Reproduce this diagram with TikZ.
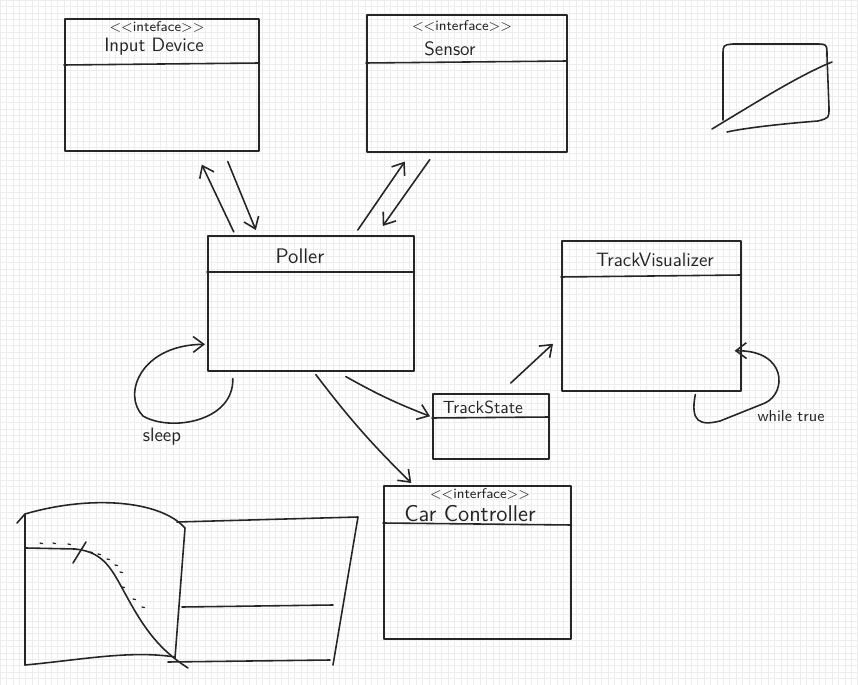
\documentclass[tikz,border=0pt]{standalone}
\usepackage{fontspec}
\usetikzlibrary{arrows.meta,calc}
% one drawing unit = one pixel of the sheet
\newlength\pxu \setlength\pxu{0.02cm}
\tikzset{
  pen/.style={line width=0.9pt, draw=black!85, line cap=round, line join=round},
  umlbox/.style={pen, rectangle, inner sep=0pt, anchor=north west},
  title/.style={font=\sffamily\fontsize{#1}{#1}\selectfont, inner sep=0pt, text=black!85},
  title/.default=11,
  stereo/.style={font=\sffamily\fontsize{8}{8}\selectfont, inner sep=0pt, text=black!85},
  flow/.style={pen, -{Straight Barb[length=6pt,width=9pt]}},
  sketch/.style={pen},
}
\begin{document}
\begin{tikzpicture}[x=0.02cm, y=-0.02cm]
  % sheet of squared paper
  \useasboundingbox (0,0) rectangle (858,685);
  \fill[white] (0,0) rectangle (858,685);
  \draw[black!7, line width=0.25pt, step=6.4\pxu] (0,0) grid (858,685);

  % ---------- class boxes ----------
  \node[umlbox, minimum width=194\pxu, minimum height=132\pxu] (in) at (64,18) {};
  \draw[pen] ($(in.north west)+(0,47)$) -- ($(in.north east)+(0,45)$);
  \node[stereo] (in-st) at (157,27) {<\kern0pt<inteface>\kern0pt>};
  \node[title] (in-t) at (154,47) {Input Device};

  \node[umlbox, minimum width=200\pxu, minimum height=137\pxu] (se) at (366,14) {};
  \draw[pen] ($(se.north west)+(0,49)$) -- ($(se.north east)+(0,47)$);
  \node[stereo] (se-st) at (462,26) {<\kern0pt<interface>\kern0pt>};
  \node[title] (se-t) at (450,49) {Sensor};

  \node[umlbox, minimum width=206\pxu, minimum height=135\pxu] (poller) at (207,235) {};
  \draw[pen] ($(poller.north west)+(0,37)$) -- ($(poller.north east)+(0,37)$);
  \node[title=12] (poller-t) at (300,256) {Poller};

  \node[umlbox, minimum width=179\pxu, minimum height=150\pxu] (tv) at (561,240) {};
  \draw[pen] ($(tv.north west)+(0,37)$) -- ($(tv.north east)+(0,35)$);
  \node[title] (tv-t) at (655,260) {TrackVisualizer};

  \node[umlbox, minimum width=116\pxu, minimum height=65\pxu] (ts) at (432,393) {};
  \draw[pen] ($(ts.north west)+(0,25)$) -- ($(ts.north east)+(0,24)$);
  \node[title=10] (ts-t) at (483,407) {TrackState};

  \node[umlbox, minimum width=187\pxu, minimum height=153\pxu] (cc) at (383,485) {};
  \draw[pen] ($(cc.north west)+(0,38)$) -- ($(cc.north east)+(0,40)$);
  \node[stereo] (cc-st) at (480,494) {<\kern0pt<interface>\kern0pt>};
  \node[title=13] (cc-t) at (470,514) {Car Controller};

  % ---------- messages ----------
  \draw[flow] ($(in.south)+(66,10)$) -- ($(poller.north)+(-55,-5)$);
  \draw[flow] ($(poller.north)+(-77,-3)$) -- ($(in.south)+(40,13)$);
  \draw[flow] ($(poller.north)+(47,-5)$) -- ($(se.south)+(-62,9)$);
  \draw[flow] ($(se.south)+(-37,7)$) -- ($(poller.north)+(72,-9)$);
  \draw[flow] ($(poller.south)+(35,5)$) to[bend right=4] ($(ts.west)+(-2,-10)$);
  \draw[flow] ($(poller.south)+(5,3)$) to[bend right=4] ($(cc.north)+(-66,-2)$);
  \draw[flow] ($(ts.north)+(20,-10)$) -- ($(tv.west)+(-8,28)$);

  % self loops
  \draw[flow] ($(poller.south)+(-78,7)$) .. controls (234,422) and (170,432) .. (143,416)
              .. controls (122,395) and (140,345) .. ($(poller.west)+(-2,41)$);
  \node[title] (sleep) at (162,437) {sleep};

  \draw[flow] ($(tv.south)+(44,3)$) .. controls (690,422) and (700,426) .. (720,421)
              -- (765,403) .. controls (787,393) and (787,350) .. ($(tv.east)+(-7,35)$);
  \node[title=9] (while) at (791,416) {while true};

  % ---------- sketch: curve over a second panel ----------
  \draw[sketch] (17,523) -- (25,514) -- (25,665);
  \draw[sketch] (25,514) .. controls (90,495) and (160,500) .. (185,528) -- (175,658);
  \draw[sketch] (25,665) .. controls (80,660) and (130,650) .. (175,657);
  \draw[sketch] (26,548) -- (75,549) .. controls (105,552) and (112,570) .. (127,597)
                .. controls (145,630) and (160,650) .. (188,668);
  \draw[sketch] (73,563) -- (86,542);
  \foreach \p/\q in {40/543, 53/543, 68/544, 90/552, 98/554, 107/559, 115/565,
                     120/572, 122/587, 133/599, 142/607}
    \draw[pen, line width=0.7pt] (\p,\q) -- ++(2.5,0.6);
  \draw[sketch] (177,522) -- (358,517) -- (333,665);
  \draw[sketch] (168,662) -- (330,660);
  \draw[sketch] (182,607) -- (333,605);

  % ---------- sketch: small framed diagonal ----------
  \draw[sketch] (723,120) -- (723,55) .. controls (723,45) .. (733,44) -- (815,44)
                .. controls (827,44) .. (827,56) -- (829,108)
                .. controls (829,118) .. (818,121)
                .. controls (780,124) and (745,128) .. (727,132);
  \draw[sketch] (712,129) .. controls (760,100) and (800,75) .. (832,62);
\end{tikzpicture}
\end{document}
